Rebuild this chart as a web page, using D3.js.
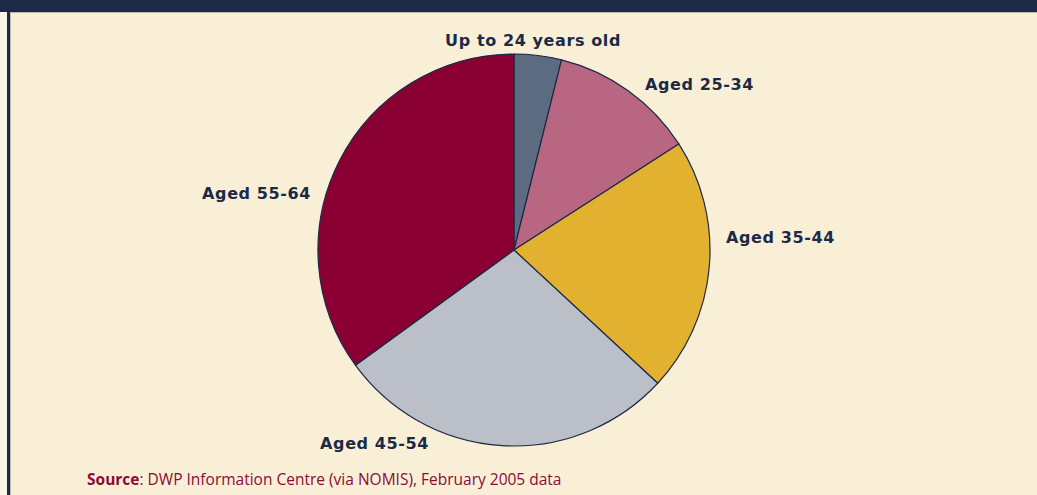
<!DOCTYPE html>
<html lang="en">
<head>
<meta charset="UTF-8">
<title>Age breakdown</title>
<script src="https://d3js.org/d3.v7.min.js"></script>
<style>
  html, body { margin: 0; padding: 0; background: #f9efd6; }
  svg { display: block; }
</style>
</head>
<body>
<svg width="1037" height="495"></svg>
<script>
// data (percent share, clockwise from 12 o'clock)
var categories = ["Up to 24 years old", "Aged 25-34", "Aged 35-44", "Aged 45-54", "Aged 55-64"];
var values = [3.9, 12.0, 21.0, 28.1, 35.0];
var colours = ["#5c6b80", "#b86682", "#e2b130", "#bbbfc8", "#8a0033"];
// label placement relative to pie centre: [dx, dy, anchor]
var labelAt = [[19, -210, "middle"], [131, -166, "start"], [212, -13, "start"], [-85, 193, "end"], [-203, -57, "end"]];

var navy = "#1b2a47";
var svg = d3.select("svg");
var W = 1037, H = 495;

// frame
svg.append("rect").attr("width", W).attr("height", H).attr("fill", "#f9efd6");
svg.append("rect").attr("x", 0).attr("y", 12).attr("width", 7).attr("height", H).attr("fill", "#fbf6ea");
svg.append("rect").attr("x", 7).attr("y", 0).attr("width", 3).attr("height", H).attr("fill", navy);
svg.append("rect").attr("x", 0).attr("y", 0).attr("width", W).attr("height", 12).attr("fill", navy);
svg.append("line").attr("x1", 10.5).attr("x2", 10.5).attr("y1", 12).attr("y2", H)
  .attr("stroke", "#b9b7b0").attr("stroke-width", 1);
svg.append("line").attr("x1", 10).attr("x2", W).attr("y1", 12.5).attr("y2", 12.5)
  .attr("stroke", "#b9b7b0").attr("stroke-width", 1);

var cx = 514, cy = 250, r = 196;
var data = categories.map((c, i) => ({name: c, value: values[i], colour: colours[i], lab: labelAt[i]}));

var pie = d3.pie().sort(null).value(d => d.value);
var arc = d3.arc().innerRadius(0).outerRadius(r);

var g = svg.append("g").attr("transform", "translate(" + cx + "," + cy + ")");
g.selectAll("path").data(pie(data)).enter().append("path")
  .attr("d", arc)
  .attr("fill", d => d.data.colour)
  .attr("stroke", navy)
  .attr("stroke-width", 1.2)
  .attr("stroke-linejoin", "round");

g.selectAll("text.lab").data(pie(data)).enter().append("text")
  .attr("class", "lab")
  .attr("x", d => d.data.lab[0])
  .attr("y", d => d.data.lab[1])
  .attr("dy", "0.35em")
  .attr("text-anchor", d => d.data.lab[2])
  .attr("font-family", "'DejaVu Sans', sans-serif")
  .attr("font-weight", "bold")
  .attr("font-size", 16)
  .attr("letter-spacing", 0.6)
  .attr("fill", navy)
  .text(d => d.data.name);

// source note
var src = svg.append("text").attr("x", 87).attr("y", 485)
  .attr("font-family", "'Open Sans', sans-serif").attr("font-size", 15.5).attr("fill", "#8b0a36");
src.append("tspan").attr("font-weight", "bold").text("Source");
src.append("tspan").text(": DWP Information Centre (via NOMIS), February 2005 data");
</script>
</body>
</html>
